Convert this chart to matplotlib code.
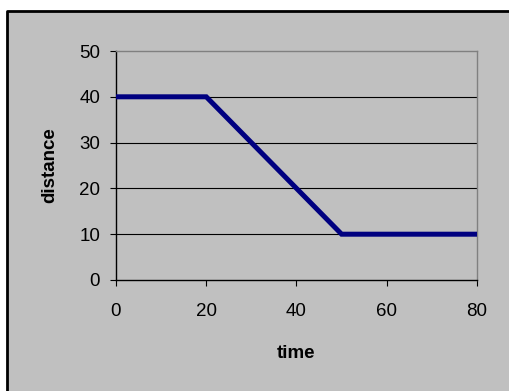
import matplotlib
matplotlib.use('Agg')
import matplotlib.pyplot as plt
from matplotlib.patches import Rectangle
from matplotlib.lines import Line2D

time = [0, 10, 20, 30, 40, 50, 60, 70, 80]
distance = [40, 40, 40, 30, 20, 10, 10, 10, 10]
xticks = [0, 20, 40, 60, 80]
yticks = [0, 10, 20, 30, 40, 50]

plt.rcParams['font.family'] = ['Liberation Sans', 'DejaVu Sans']

W, H = 510, 391
fig = plt.figure(figsize=(W / 100, H / 100), dpi=100)
fig.patch.set_facecolor('white')

# grey chart area, black frame only on left and top (rest is cropped)
x0, y0 = 7 / W, 1 - 11 / H
fig.patches.append(Rectangle((x0, -0.05), 1.1, y0 + 0.05, transform=fig.transFigure,
                             facecolor='#c0c0c0', edgecolor='none', zorder=-2))
fig.lines.append(Line2D([x0, x0, 1.05], [-0.05, y0, y0], transform=fig.transFigure,
                        color='black', linewidth=2, zorder=-1))

ax = fig.add_axes([116 / W, 1 - 280 / H, (477 - 116) / W, (280 - 51) / H])
ax.set_facecolor('#c0c0c0')

for y in yticks[1:-1]:
    ax.axhline(y, color='black', linewidth=0.8, zorder=1)

ax.plot(time, distance, color='#000080', linewidth=3.6, zorder=3,
        solid_joinstyle='miter', solid_capstyle='butt')

ax.set_xlim(0, 80)
ax.set_ylim(0, 50)
ax.set_xticks(xticks)
ax.set_yticks(yticks)
ax.tick_params(axis='both', direction='out', length=4.5, width=0.8,
               labelsize=13.5, color='black')
ax.tick_params(axis='y', pad=7)
ax.tick_params(axis='x', pad=12)

ax.spines['left'].set_color('black')
ax.spines['bottom'].set_color('black')
ax.spines['top'].set_color('#808080')
ax.spines['right'].set_color('#808080')
for s in ax.spines.values():
    s.set_linewidth(1.0)

ax.set_xlabel('time', fontsize=13.5, fontweight='bold', labelpad=18)
ax.set_ylabel('distance', fontsize=13.5, fontweight='bold', labelpad=15)

fig.savefig('out.png', dpi=100)
